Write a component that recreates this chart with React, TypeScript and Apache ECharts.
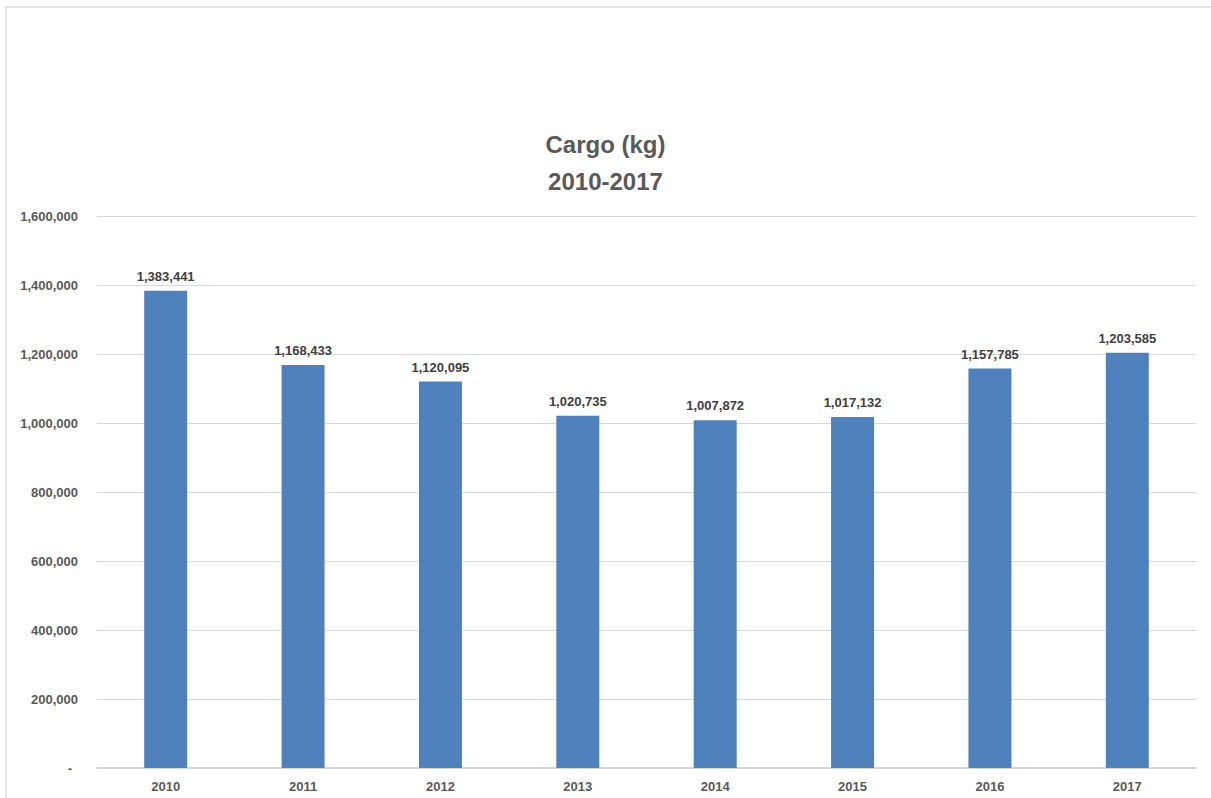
import React, { useEffect, useRef } from "react";
import * as echarts from "echarts";

const years = ["2010", "2011", "2012", "2013", "2014", "2015", "2016", "2017"];
const cargo = [1383441, 1168433, 1120095, 1020735, 1007872, 1017132, 1157785, 1203585];
const titleLines = ["Cargo (kg)", "2010-2017"];

const fmt = (v: number) => v.toLocaleString("en-US");

export default function App() {
  const ref = useRef<HTMLDivElement>(null);
  useEffect(() => {
    const chart = echarts.init(ref.current!, null, { renderer: "svg" });
    const font = "Liberation Sans, Arial, sans-serif";
    chart.setOption({
      animation: false,
      backgroundColor: "#ffffff",
      textStyle: { fontFamily: font },
      title: {
        text: titleLines.join("\n"),
        left: "center",
        top: 121,
        textStyle: { fontSize: 24, fontWeight: "bold", color: "#595959", lineHeight: 37, fontFamily: font },
      },
      graphic: [
        {
          type: "rect",
          shape: { x: 6, y: 7, width: 1400, height: 1000 },
          style: { fill: "none", stroke: "#e6e6e6", lineWidth: 2 },
          silent: true,
        },
      ],
      grid: { left: 97, right: 15, top: 216, bottom: 30, containLabel: false },
      xAxis: {
        type: "category",
        data: years,
        axisLine: { lineStyle: { color: "#d9d9d9", width: 2 } },
        axisTick: { show: false },
        axisLabel: { color: "#595959", fontWeight: "bold", fontSize: 13, margin: 12, fontFamily: font },
      },
      yAxis: {
        type: "value",
        min: 0,
        max: 1600000,
        interval: 200000,
        axisLine: { show: false },
        axisTick: { show: false },
        splitLine: { lineStyle: { color: "#d9d9d9", width: 1 } },
        axisLabel: {
          color: "#595959",
          fontWeight: "bold",
          fontSize: 13,
          margin: 19,
          fontFamily: font,
          formatter: (v: number) => (v === 0 ? "{d|-}" : fmt(v)),
          rich: { d: { color: "#595959", fontWeight: "bold", fontSize: 13, padding: [0, 6, 0, 0] } },
        },
      },
      series: [
        {
          type: "bar",
          data: cargo,
          barWidth: 43,
          itemStyle: { color: "#4F81BD" },
          label: {
            show: true,
            position: "top",
            distance: 8,
            color: "#404040",
            fontWeight: "bold",
            fontSize: 13,
            fontFamily: font,
            formatter: (p: any) => fmt(p.value),
          },
        },
      ],
    });
    return () => chart.dispose();
  }, []);
  return (
    <div
      ref={ref}
      style={{ position: "fixed", left: 0, top: 0, width: 1211, height: 798 }}
    />
  );
}
